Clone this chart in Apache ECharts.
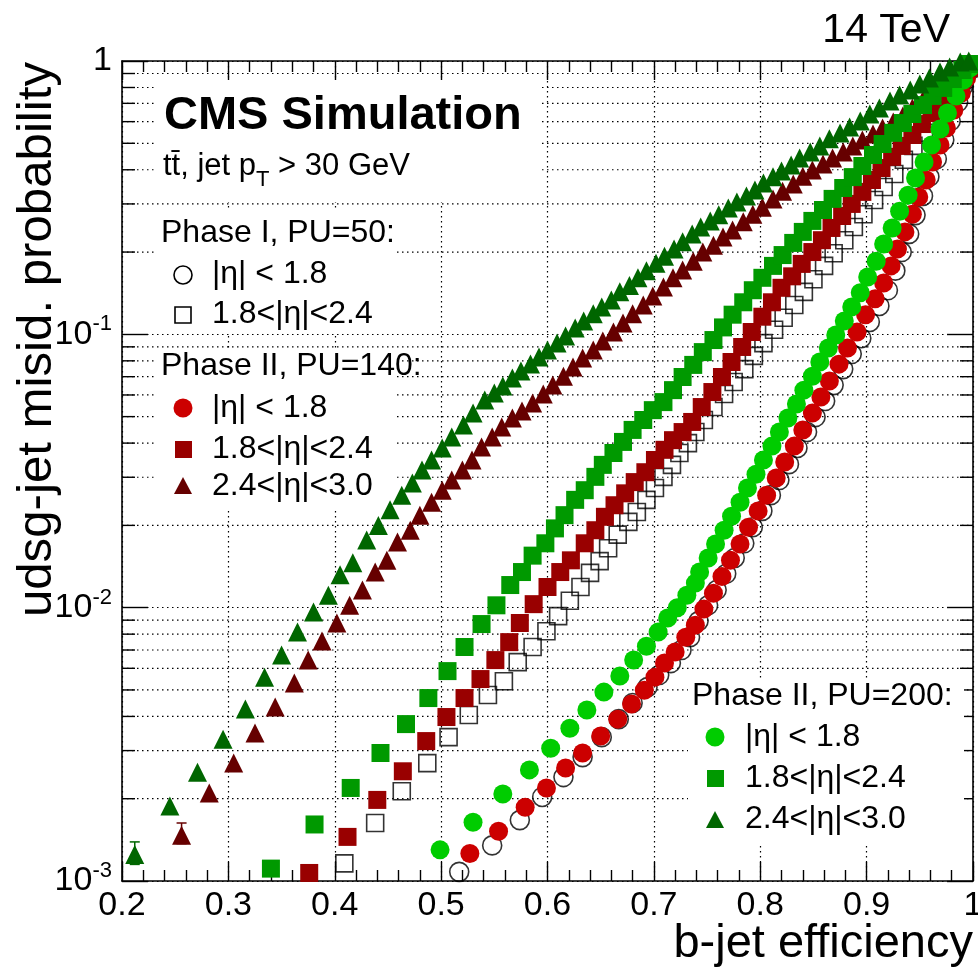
<!DOCTYPE html>
<html><head><meta charset="utf-8">
<script src="https://cdn.jsdelivr.net/npm/echarts@6/dist/echarts.min.js"></script>
<style>html,body{margin:0;padding:0;background:#fff}#c{width:978px;height:975px}</style>
</head><body><div id="c"></div>
<script>
// ---------------- data (b-jet efficiency, udsg misid probability) ----------------
const xRange = [0.2, 1.0];
const yRange = [0.001, 1];
const yMinorTicks = [0.002,0.003,0.004,0.005,0.006,0.007,0.008,0.009,0.02,0.03,0.04,0.05,0.06,0.07,0.08,0.09,0.2,0.3,0.4,0.5,0.6,0.7,0.8,0.9];

// Phase I, PU=50, |eta|<1.8 (open circles)
const p50cX = [0.517,0.548,0.574,0.595,0.615,0.633,0.651,0.667,0.680,0.694,0.705,0.716,0.726,0.734,0.742,0.751,0.759,0.768,0.776,0.785,0.793,0.802,0.810,0.818,0.827,0.835,0.844,0.852,0.861,0.869,0.878,0.886,0.895,0.903,0.912,0.920,0.927,0.933,0.940,0.946,0.953,0.959,0.966,0.973,0.979,0.986,0.991,0.997];
const p50cY = [0.00108,0.00135,0.00167,0.00203,0.00240,0.00284,0.00336,0.00391,0.00448,0.00512,0.00567,0.00627,0.00700,0.00780,0.00893,0.0102,0.0116,0.0133,0.0152,0.0172,0.0197,0.0226,0.0258,0.0293,0.0335,0.0384,0.0439,0.0498,0.0570,0.0652,0.0746,0.0847,0.0968,0.111,0.127,0.145,0.171,0.200,0.233,0.273,0.321,0.377,0.438,0.514,0.603,0.708,0.811,0.927];
// Phase I, PU=50, 1.8<|eta|<2.4 (open squares)
const p50sX = [0.409,0.438,0.463,0.487,0.507,0.526,0.544,0.559,0.572,0.586,0.599,0.610,0.621,0.631,0.640,0.649,0.657,0.666,0.676,0.684,0.693,0.701,0.709,0.717,0.724,0.732,0.739,0.747,0.756,0.766,0.775,0.785,0.794,0.803,0.813,0.822,0.832,0.841,0.850,0.860,0.869,0.879,0.888,0.897,0.907,0.916,0.926,0.935,0.944,0.954,0.963,0.973,0.982,0.990,0.996];
const p50sY = [0.00116,0.00163,0.00213,0.00270,0.00336,0.00405,0.00479,0.00538,0.00632,0.00718,0.00820,0.00931,0.0106,0.0119,0.0134,0.0148,0.0165,0.0185,0.0206,0.0224,0.0248,0.0274,0.0301,0.0333,0.0368,0.0400,0.0439,0.0486,0.0542,0.0605,0.0669,0.0746,0.0834,0.0929,0.104,0.115,0.128,0.143,0.159,0.178,0.198,0.221,0.247,0.275,0.310,0.346,0.386,0.435,0.489,0.546,0.614,0.684,0.770,0.851,0.942];
// Phase II, PU=140, |eta|<1.8 (red circles)
const p140cX = [0.527,0.554,0.579,0.599,0.617,0.633,0.650,0.666,0.679,0.691,0.701,0.710,0.720,0.730,0.739,0.747,0.756,0.764,0.772,0.781,0.789,0.798,0.806,0.815,0.823,0.832,0.840,0.849,0.857,0.865,0.874,0.882,0.891,0.899,0.908,0.916,0.923,0.929,0.936,0.943,0.949,0.956,0.962,0.969,0.975,0.982,0.989,0.994,0.999];
const p140cY = [0.00126,0.00152,0.00186,0.00219,0.00259,0.00294,0.00339,0.00391,0.00444,0.00499,0.00557,0.00627,0.00689,0.00780,0.00863,0.00988,0.0113,0.0130,0.0149,0.0171,0.0197,0.0226,0.0258,0.0298,0.0341,0.0390,0.0447,0.0515,0.0590,0.0675,0.0778,0.0891,0.102,0.118,0.135,0.154,0.178,0.205,0.237,0.275,0.318,0.367,0.427,0.493,0.569,0.662,0.764,0.867,0.966];
// Phase II, PU=140, 1.8<|eta|<2.4 (dark red squares)
const p140sX = [0.376,0.412,0.440,0.464,0.486,0.505,0.522,0.537,0.551,0.564,0.574,0.587,0.600,0.612,0.622,0.635,0.645,0.654,0.663,0.673,0.682,0.692,0.701,0.710,0.718,0.727,0.736,0.745,0.755,0.764,0.773,0.783,0.792,0.802,0.811,0.820,0.830,0.839,0.849,0.858,0.867,0.877,0.886,0.896,0.905,0.914,0.924,0.933,0.943,0.952,0.961,0.971,0.980,0.990,0.997];
const p140sY = [0.00107,0.00145,0.00198,0.00252,0.00325,0.00398,0.00467,0.00548,0.00643,0.00748,0.00879,0.0103,0.0119,0.0135,0.0149,0.0172,0.0192,0.0215,0.0237,0.0262,0.0288,0.0313,0.0347,0.0378,0.0410,0.0439,0.0478,0.0542,0.0615,0.0698,0.0792,0.0899,0.102,0.116,0.131,0.148,0.163,0.181,0.200,0.221,0.245,0.271,0.300,0.332,0.367,0.406,0.446,0.489,0.536,0.588,0.645,0.708,0.776,0.859,0.942];
// Phase II, PU=140, 2.4<|eta|<3.0 (darker red triangles)
const p140tX = [0.256,0.282,0.305,0.325,0.344,0.362,0.375,0.388,0.402,0.414,0.426,0.438,0.449,0.459,0.471,0.480,0.491,0.501,0.510,0.520,0.529,0.538,0.548,0.557,0.567,0.576,0.586,0.596,0.605,0.615,0.624,0.633,0.643,0.652,0.662,0.671,0.680,0.690,0.699,0.709,0.718,0.727,0.737,0.746,0.756,0.765,0.774,0.784,0.793,0.802,0.812,0.821,0.831,0.840,0.849,0.859,0.868,0.878,0.887,0.896,0.906,0.915,0.925,0.934,0.943,0.953,0.962,0.972,0.981,0.990,0.997];
const p140tY = [0.00147,0.00210,0.00270,0.00348,0.00433,0.00530,0.00643,0.00755,0.00879,0.0102,0.0116,0.0135,0.0149,0.0174,0.0192,0.0218,0.0243,0.0269,0.0293,0.0319,0.0347,0.0387,0.0421,0.0458,0.0494,0.0524,0.0561,0.0605,0.0653,0.0703,0.0759,0.0819,0.0877,0.0945,0.102,0.110,0.119,0.128,0.138,0.149,0.161,0.172,0.185,0.200,0.212,0.227,0.241,0.258,0.275,0.292,0.313,0.334,0.355,0.379,0.399,0.420,0.442,0.465,0.489,0.514,0.541,0.569,0.598,0.629,0.673,0.720,0.764,0.817,0.873,0.935,0.984];
// Phase II, PU=200, |eta|<1.8 (green circles)
const p200cX = [0.499,0.530,0.558,0.583,0.603,0.621,0.637,0.653,0.668,0.681,0.693,0.704,0.713,0.722,0.731,0.739,0.743,0.751,0.758,0.766,0.773,0.781,0.788,0.796,0.803,0.811,0.818,0.826,0.834,0.841,0.849,0.856,0.864,0.871,0.879,0.886,0.894,0.901,0.909,0.916,0.924,0.931,0.939,0.946,0.954,0.961,0.969,0.976,0.984,0.991,0.997];
const p200cY = [0.00130,0.00164,0.00208,0.00255,0.00306,0.00362,0.00422,0.00491,0.00562,0.00643,0.00723,0.00814,0.00916,0.0100,0.0111,0.0123,0.0135,0.0152,0.0171,0.0192,0.0216,0.0243,0.0274,0.0308,0.0347,0.0390,0.0439,0.0494,0.0556,0.0625,0.0703,0.0792,0.0891,0.0994,0.112,0.126,0.142,0.162,0.185,0.214,0.245,0.282,0.323,0.373,0.427,0.493,0.564,0.645,0.745,0.851,0.942];
// Phase II, PU=200, 1.8<|eta|<2.4 (green squares)
const p200sX = [0.340,0.381,0.415,0.443,0.467,0.488,0.506,0.522,0.538,0.552,0.565,0.576,0.586,0.598,0.607,0.616,0.626,0.635,0.645,0.652,0.662,0.671,0.680,0.690,0.699,0.709,0.718,0.727,0.737,0.746,0.756,0.765,0.774,0.784,0.793,0.802,0.812,0.821,0.831,0.840,0.849,0.859,0.868,0.878,0.887,0.896,0.906,0.915,0.925,0.934,0.943,0.953,0.962,0.972,0.981,0.990,0.997];
const p200sY = [0.00111,0.00161,0.00219,0.00294,0.00375,0.00467,0.00586,0.00718,0.00871,0.0102,0.0121,0.0135,0.0155,0.0172,0.0195,0.0218,0.0248,0.0269,0.0301,0.0333,0.0368,0.0404,0.0447,0.0486,0.0528,0.0565,0.0625,0.0698,0.0773,0.0861,0.0953,0.106,0.118,0.131,0.145,0.161,0.178,0.195,0.216,0.237,0.260,0.285,0.313,0.343,0.376,0.413,0.453,0.497,0.546,0.593,0.640,0.690,0.745,0.797,0.859,0.927,0.975];
// Phase II, PU=200, 2.4<|eta|<3.0 (dark green triangles)
const p200tX = [0.212,0.245,0.271,0.295,0.316,0.334,0.350,0.365,0.380,0.394,0.405,0.417,0.430,0.441,0.452,0.463,0.473,0.482,0.491,0.501,0.510,0.521,0.530,0.541,0.550,0.558,0.567,0.575,0.584,0.592,0.600,0.609,0.617,0.626,0.634,0.643,0.651,0.660,0.668,0.677,0.685,0.693,0.702,0.710,0.719,0.727,0.736,0.744,0.753,0.761,0.770,0.778,0.787,0.795,0.803,0.812,0.820,0.829,0.837,0.847,0.856,0.865,0.875,0.884,0.894,0.903,0.912,0.922,0.931,0.941,0.950,0.959,0.969,0.978,0.988,0.996];
const p200tY = [0.00125,0.00188,0.00250,0.00330,0.00426,0.00557,0.00671,0.00815,0.00964,0.0111,0.0132,0.0146,0.0177,0.0200,0.0228,0.0258,0.0286,0.0319,0.0347,0.0384,0.0421,0.0466,0.0515,0.0575,0.0610,0.0647,0.0692,0.0734,0.0779,0.0826,0.0876,0.0929,0.0986,0.1055,0.112,0.119,0.126,0.1335,0.143,0.151,0.161,0.171,0.182,0.193,0.205,0.218,0.233,0.247,0.260,0.274,0.290,0.305,0.321,0.337,0.358,0.377,0.396,0.416,0.442,0.465,0.489,0.519,0.545,0.574,0.603,0.640,0.673,0.714,0.751,0.783,0.824,0.867,0.911,0.951,0.991,0.999];
// error bars on the lowest triangle points
const errX  = [0.212, 0.256];
const errLo = [0.00115, 0.00137];
const errHi = [0.00139, 0.00163];

// ---------------- chart ----------------
const FONT = 'Liberation Sans, Arial, Helvetica, sans-serif';
const zip = (xs, ys) => xs.map((x, i) => [x, ys[i]]);
const chart = echarts.init(document.getElementById('c'), null, {renderer: 'canvas'});

function markerSeries(name, xs, ys, symbol, fill, size, hollow) {
  return {
    name, type: 'scatter', data: zip(xs, ys), symbol, symbolSize: size, z: 5,
    itemStyle: hollow ? {color: 'rgba(0,0,0,0)', borderColor: '#000', borderWidth: 1.6}
                      : {color: fill, borderWidth: 0, opacity: 1},
    emphasis: {disabled: true}, silent: true, clip: false
  };
}

const tickStyle = {color: '#000', width: 1.4};
const dotted = {color: '#000', width: 1.2, type: [1.5, 3.5]};
const yLabelFmt = v => {
  const e = Math.round(Math.log10(v));
  return e === 0 ? '{b|1}' : '{b|10}{s|' + e + '}';
};

const option = {
  backgroundColor: '#fff',
  animation: false,
  grid: {left: 122, right: 5, top: 61, bottom: 94, containLabel: false, outerBoundsMode: 'none'},
  xAxis: [
    {type: 'value', min: xRange[0], max: xRange[1], interval: 0.1, position: 'bottom',
     axisLine: {show: true, onZero: false, lineStyle: {color: '#000', width: 1.6}},
     axisTick: {show: true, inside: true, length: 19, lineStyle: tickStyle},
     minorTick: {show: true, splitNumber: 5, length: 11, lineStyle: tickStyle},
     axisLabel: {show: true, fontSize: 34, color: '#000', fontFamily: FONT, margin: 8,
                 showMinLabel: true, showMaxLabel: true, hideOverlap: false,
                 formatter: v => Math.abs(v - 1) < 1e-9 ? '1' : v.toFixed(1)},
     splitLine: {show: true, lineStyle: dotted}},
    {type: 'value', min: xRange[0], max: xRange[1], interval: 0.1, position: 'top',
     axisLine: {show: true, onZero: false, lineStyle: {color: '#000', width: 1.6}},
     axisTick: {show: true, inside: true, length: 19, lineStyle: tickStyle},
     minorTick: {show: true, splitNumber: 5, length: 11, lineStyle: tickStyle},
     axisLabel: {show: false}, splitLine: {show: false}}
  ],
  yAxis: [
    {type: 'log', logBase: 10, min: yRange[0], max: yRange[1], position: 'left', splitNumber: 3,
     axisLine: {show: true, onZero: false, lineStyle: {color: '#000', width: 1.6}},
     axisTick: {show: true, inside: true, length: 26, lineStyle: tickStyle},
     minorTick: {show: false},
     axisLabel: {show: true, margin: 10, formatter: yLabelFmt, showMinLabel: true, showMaxLabel: true,
                 rich: {b: {fontSize: 34, fontFamily: FONT, color: '#000'},
                        s: {fontSize: 22, fontFamily: FONT, color: '#000', padding: [0, 0, 20, 0]}}},
     splitLine: {show: true, lineStyle: dotted}},
    {type: 'log', logBase: 10, min: yRange[0], max: yRange[1], position: 'right', splitNumber: 3,
     axisLine: {show: true, onZero: false, lineStyle: {color: '#000', width: 1.6}},
     axisTick: {show: true, inside: true, length: 26, lineStyle: tickStyle},
     minorTick: {show: false}, axisLabel: {show: false}, splitLine: {show: false}}
  ],
  series: [
    {type: 'custom', name: 'yminor', xAxisIndex: 0, yAxisIndex: 0, z: 1, silent: true,
     data: yMinorTicks.map(v => [xRange[0], v]),
     renderItem: (params, api) => {
       const v = api.value(1);
       const p0 = api.coord([xRange[0], v]);
       const p1 = api.coord([xRange[1], v]);
       return {type: 'group', children: [
         {type: 'line', shape: {x1: p0[0], y1: p0[1], x2: p1[0], y2: p1[1]},
          style: {stroke: '#000', lineWidth: 1.2, lineDash: [1.5, 3.5]}},
         {type: 'line', shape: {x1: p0[0], y1: p0[1], x2: p0[0] + 13, y2: p0[1]},
          style: {stroke: '#000', lineWidth: 1.4}},
         {type: 'line', shape: {x1: p1[0] - 13, y1: p1[1], x2: p1[0], y2: p1[1]},
          style: {stroke: '#000', lineWidth: 1.4}}
       ]};
     }},
    markerSeries('PU50 |eta|<1.8', p50cX, p50cY, 'circle', null, 19, true),
    markerSeries('PU50 1.8-2.4', p50sX, p50sY, 'rect', null, 17, true),
    markerSeries('PU140 |eta|<1.8', p140cX, p140cY, 'circle', '#cc0000', 19, false),
    markerSeries('PU140 1.8-2.4', p140sX, p140sY, 'rect', '#990000', 18, false),
    markerSeries('PU140 2.4-3.0', p140tX, p140tY, 'triangle', '#660000', 19, false),
    markerSeries('PU200 |eta|<1.8', p200cX, p200cY, 'circle', '#00cc00', 19, false),
    markerSeries('PU200 1.8-2.4', p200sX, p200sY, 'rect', '#009900', 18, false),
    markerSeries('PU200 2.4-3.0', p200tX, p200tY, 'triangle', '#006600', 19, false),
    {type: 'custom', name: 'err', xAxisIndex: 0, yAxisIndex: 0, z: 6, silent: true,
     data: errX.map((x, i) => [x, errLo[i], errHi[i]]),
     renderItem: (params, api) => {
       const lo = api.coord([api.value(0), api.value(1)]);
       const hi = api.coord([api.value(0), api.value(2)]);
       const col = params.dataIndex === 0 ? '#006600' : '#660000';
       const st = {stroke: col, lineWidth: 1.5};
       return {type: 'group', children: [
         {type: 'line', shape: {x1: lo[0], y1: lo[1], x2: hi[0], y2: hi[1]}, style: st},
         {type: 'line', shape: {x1: lo[0] - 5, y1: lo[1], x2: lo[0] + 5, y2: lo[1]}, style: st},
         {type: 'line', shape: {x1: hi[0] - 5, y1: hi[1], x2: hi[0] + 5, y2: hi[1]}, style: st}
       ]};
     }}
  ],
  graphic: {elements: [
    // white legend / label boxes
    {type: 'rect', z: 3, silent: true, shape: {x: 154, y: 80, width: 386, height: 122}, style: {fill: '#fff'}},
    {type: 'rect', z: 3, silent: true, shape: {x: 154, y: 211, width: 240, height: 123}, style: {fill: '#fff'}},
    {type: 'rect', z: 3, silent: true, shape: {x: 154, y: 349, width: 240, height: 162}, style: {fill: '#fff'}},
    {type: 'rect', z: 3, silent: true, shape: {x: 688, y: 679, width: 276, height: 164}, style: {fill: '#fff'}},
    // titles
    {type: 'text', z: 4, silent: true, x: 950, y: 31, style: {text: '14 TeV', font: '41px ' + FONT, fill: '#000', align: 'right', verticalAlign: 'middle'}},
    {type: 'text', z: 4, silent: true, x: 973, y: 944, style: {text: 'b-jet efficiency', font: '47px ' + FONT, fill: '#000', align: 'right', verticalAlign: 'middle'}},
    {type: 'text', z: 4, silent: true, x: 38, y: 62, rotation: Math.PI / 2, scaleX: 1.025, style: {text: 'udsg-jet misid. probability', font: '48px ' + FONT, fill: '#000', align: 'right', verticalAlign: 'middle'}},
    {type: 'text', z: 4, silent: true, x: 164, y: 116, style: {text: 'CMS Simulation', font: 'bold 47px ' + FONT, fill: '#000', align: 'left', verticalAlign: 'middle'}},
    {type: 'text', z: 4, silent: true, x: 163, y: 172, style: {
      text: '{a|tt\u0304, jet p}{t|T}{a| > 30 GeV}', align: 'left', verticalAlign: 'middle',
      rich: {a: {fontSize: 31, fontFamily: FONT, fill: '#000', padding: [0, 0, 12, 0]},
             t: {fontSize: 22, fontFamily: FONT, fill: '#000', padding: [16, 0, 0, 0]}}}},
    // Phase I legend
    {type: 'text', z: 4, silent: true, x: 161, y: 233, style: {text: 'Phase I, PU=50:', font: '32px ' + FONT, fill: '#000', align: 'left', verticalAlign: 'middle'}},
    {type: 'circle', z: 4, silent: true, shape: {cx: 183, cy: 275, r: 9}, style: {fill: 'none', stroke: '#000', lineWidth: 1.6}},
    {type: 'text', z: 4, silent: true, x: 212, y: 274, style: {text: '|\u03b7| < 1.8', font: '32px ' + FONT, fill: '#000', align: 'left', verticalAlign: 'middle'}},
    {type: 'rect', z: 4, silent: true, shape: {x: 175, y: 307, width: 16, height: 16}, style: {fill: 'none', stroke: '#000', lineWidth: 1.6}},
    {type: 'text', z: 4, silent: true, x: 212, y: 314, style: {text: '1.8<|\u03b7|<2.4', font: '32px ' + FONT, fill: '#000', align: 'left', verticalAlign: 'middle'}},
    // Phase II PU=140 legend
    {type: 'text', z: 4, silent: true, x: 161, y: 366, style: {text: 'Phase II, PU=140:', font: '32px ' + FONT, fill: '#000', align: 'left', verticalAlign: 'middle'}},
    {type: 'circle', z: 4, silent: true, shape: {cx: 183, cy: 408, r: 9.5}, style: {fill: '#cc0000'}},
    {type: 'text', z: 4, silent: true, x: 212, y: 408, style: {text: '|\u03b7| < 1.8', font: '32px ' + FONT, fill: '#000', align: 'left', verticalAlign: 'middle'}},
    {type: 'rect', z: 4, silent: true, shape: {x: 175, y: 441, width: 17, height: 17}, style: {fill: '#990000'}},
    {type: 'text', z: 4, silent: true, x: 212, y: 449, style: {text: '1.8<|\u03b7|<2.4', font: '32px ' + FONT, fill: '#000', align: 'left', verticalAlign: 'middle'}},
    {type: 'polygon', z: 4, silent: true, shape: {points: [[174, 494], [192, 494], [183, 477]]}, style: {fill: '#660000'}},
    {type: 'text', z: 4, silent: true, x: 212, y: 486, style: {text: '2.4<|\u03b7|<3.0', font: '32px ' + FONT, fill: '#000', align: 'left', verticalAlign: 'middle'}},
    // Phase II PU=200 legend
    {type: 'text', z: 4, silent: true, x: 692, y: 696, style: {text: 'Phase II, PU=200:', font: '32px ' + FONT, fill: '#000', align: 'left', verticalAlign: 'middle'}},
    {type: 'circle', z: 4, silent: true, shape: {cx: 715, cy: 737, r: 9.5}, style: {fill: '#00cc00'}},
    {type: 'text', z: 4, silent: true, x: 745, y: 737, style: {text: '|\u03b7| < 1.8', font: '32px ' + FONT, fill: '#000', align: 'left', verticalAlign: 'middle'}},
    {type: 'rect', z: 4, silent: true, shape: {x: 707, y: 770, width: 17, height: 17}, style: {fill: '#009900'}},
    {type: 'text', z: 4, silent: true, x: 745, y: 778, style: {text: '1.8<|\u03b7|<2.4', font: '32px ' + FONT, fill: '#000', align: 'left', verticalAlign: 'middle'}},
    {type: 'polygon', z: 4, silent: true, shape: {points: [[706, 828], [724, 828], [715, 811]]}, style: {fill: '#006600'}},
    {type: 'text', z: 4, silent: true, x: 745, y: 819, style: {text: '2.4<|\u03b7|<3.0', font: '32px ' + FONT, fill: '#000', align: 'left', verticalAlign: 'middle'}}
  ]}
};
chart.setOption(option);
</script>
</body></html>
